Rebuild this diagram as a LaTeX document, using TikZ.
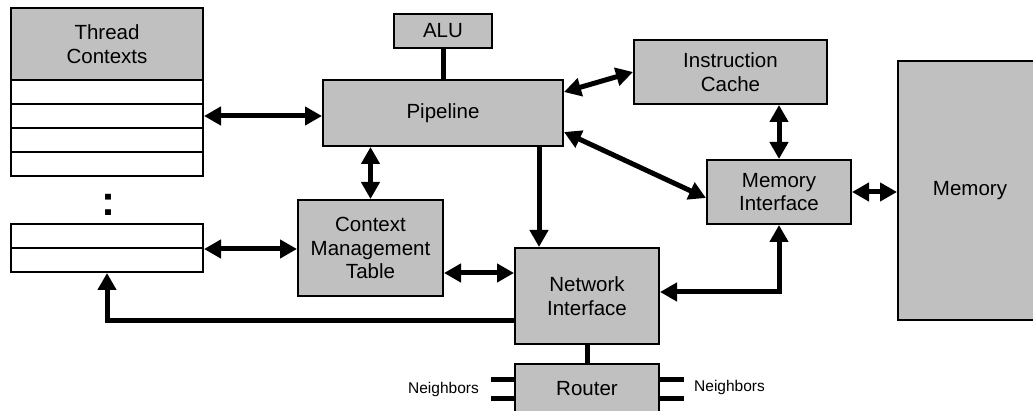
\documentclass[tikz,border=0pt]{standalone}
\usepackage{fontspec}
\setmainfont{Liberation Sans}
\usetikzlibrary{arrows.meta,calc}
\definecolor{boxgray}{HTML}{C0C0C0}
\tikzset{
  >={Triangle[length=17pt,width=18pt]},
  box/.style={draw, line width=2pt, fill=boxgray, inner sep=0pt, align=center,
    font=\fontsize{20.5}{23.5}\selectfont},
  rowbox/.style={draw, line width=2pt, fill=white, inner sep=0pt,
    minimum width=192pt, minimum height=24pt},
  conn/.style={line width=5pt},
  nb/.style={inner sep=0pt, font=\fontsize{15.5}{18}\selectfont},
}
\begin{document}
\begin{tikzpicture}[x=1pt,y=-1pt]
\clip (0,0) rectangle (1033,411);
\fill[white] (0,0) rectangle (1033,411);
% thread contexts
\node[box, minimum width=192pt, minimum height=72pt] (tch) at (107,44) {Thread\\Contexts};
\node[rowbox] (r1) at (107,92) {};
\node[rowbox] (r2) at (107,116) {};
\node[rowbox] (r3) at (107,140) {};
\node[rowbox] (r4) at (107,164) {};
\node[anchor=base, inner sep=0pt, font=\fontsize{42}{42}\selectfont\bfseries] (dots) at (108,215.5) {:};
\node[rowbox] (l1) at (107,236) {};
\node[rowbox] (l2) at (107,260) {};
% main blocks
\node[box, minimum width=98pt, minimum height=34pt] (alu) at (443,31) {ALU};
\node[box, minimum width=240pt, minimum height=66pt] (pipe) at (443,113) {Pipeline};
\node[box, minimum width=193pt, minimum height=64pt] (ic) at (730.5,72) {Instruction\\Cache};
\node[box, minimum width=144pt, minimum height=64pt] (mi) at (779,192) {Memory\\Interface};
\node[box, minimum width=144pt, minimum height=259pt] (mem) at (970,190.5) {Memory};
\node[box, minimum width=145pt, minimum height=96pt] (cmt) at (370.5,248) {Context\\Management\\Table};
\node[box, minimum width=144pt, minimum height=96pt] (ni) at (587,296) {Network\\Interface};
\node[box, minimum width=144pt, minimum height=50pt] (router) at (587,389) {Router};
% connectors
\draw[conn,<->] (r2.east) -- (r2.east -| pipe.west);
\draw[conn,<->] (l1.south east) -- (l1.south east -| cmt.west);
\draw[conn,<->] (cmt.north) -- (cmt.north |- pipe.south);
\draw[conn] (alu.south) -- (pipe.north);
\draw[conn,->] ([xshift=-25pt]pipe.south east) -- ([xshift=-25pt]pipe.south east |- ni.north);
\draw[conn,<->] ([yshift=-13pt]pipe.north east) -- (ic.west);
\draw[conn,<->] ([yshift=15pt]pipe.south east) -- ([yshift=-6pt]mi.west);
\draw[conn,<->] (mi.north) -- (mi.north |- ic.south);
\draw[conn,<->] (mi.east) -- (mi.east -| mem.west);
\draw[conn,<->] (mi.south) |- ([yshift=4pt]ni.east);
\draw[conn,<->] ([yshift=-25pt]cmt.east) -- ([yshift=-25pt]cmt.east -| ni.west);
\draw[conn,->] ([yshift=-25pt]ni.west) -| (l2.south);
\draw[conn] (ni.south) -- (router.north);
% neighbor links
\draw[conn] ([yshift=10pt]router.west) -- ++(-23pt,0);
\draw[conn] ([yshift=-9pt]router.west) -- ++(-23pt,0);
\draw[conn] ([yshift=10pt]router.east) -- ++(24pt,0);
\draw[conn] ([yshift=-9pt]router.east) -- ++(24pt,0);
\node[nb, anchor=east] (nbl) at ([xshift=-35pt]router.west) {Neighbors};
\node[nb, anchor=west] (nbr) at ([xshift=34pt,yshift=2pt]router.east) {Neighbors};
\end{tikzpicture}
\end{document}
